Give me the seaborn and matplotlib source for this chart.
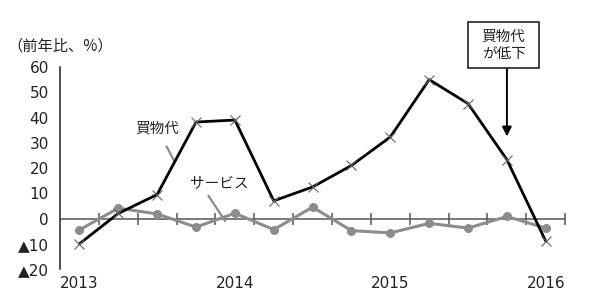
import matplotlib
matplotlib.use("Agg")
import matplotlib.pyplot as plt
from matplotlib.patches import Rectangle
import seaborn as sns
import pandas as pd
import numpy as np

sns.set_theme(style="white")
plt.rcParams['font.family'] = ['Noto Sans CJK JP', 'DejaVu Sans']

quarters = list(range(13))
goods = [-10, 2, 9.5, 38.2, 39, 7, 12.5, 21, 32.3, 55, 45.5, 23.3, -9]
services = [-4.5, 4.1, 1.8, -3.4, 2.1, -4.4, 4.5, -4.8, -5.7, -1.9, -3.8, 0.8, -3.8]
year_pos = [0, 4, 8, 12]
year_labels = ["2013", "2014", "2015", "2016"]
y_ticks = [-20, -10, 0, 10, 20, 30, 40, 50, 60]
y_labels = ["▲20", "▲10", "0", "10", "20", "30", "40", "50", "60"]

df = pd.DataFrame({"q": quarters, "goods": goods, "services": services})

fig = plt.figure(figsize=(6, 2.99), dpi=100)
ax = fig.add_axes([0.1, 0.1003, 0.842, 0.6756])

num_font = ['DejaVu Sans']

# zero line with quarter separators
ax.axhline(0, color="#555555", lw=1.1, zorder=1)
sep = np.arange(-0.5, 13, 1.0)
ax.plot(sep[1:], np.zeros(len(sep) - 1), linestyle="none", marker="|",
        markersize=8, markeredgewidth=1.1, color="#555555", zorder=1)

sns.lineplot(data=df, x="q", y="services", ax=ax, color="#8c8c8c", lw=2.2,
             marker="o", markersize=6.5, markeredgewidth=0, zorder=3)
sns.lineplot(data=df, x="q", y="goods", ax=ax, color="black", lw=2,
             marker="x", markersize=7.5, markeredgewidth=0.8,
             markeredgecolor="#666666", zorder=4)

ax.set_xlim(-0.5, 12.5)
ax.set_ylim(-20, 60)
ax.set_xlabel("")
ax.set_ylabel("")
for s in ["top", "right", "bottom"]:
    ax.spines[s].set_visible(False)
ax.spines["left"].set_color("#222222")
ax.spines["left"].set_linewidth(1.1)
ax.set_yticks(y_ticks)
ax.set_yticklabels(y_labels, family=num_font)
ax.tick_params(axis="y", direction="in", length=6, width=1.1, color="#222222",
               labelsize=11, pad=8, labelcolor="#222222")
ax.set_xticks(year_pos)
ax.set_xticklabels(year_labels, family=num_font)
ax.tick_params(axis="x", length=0, labelsize=11, pad=5, labelcolor="#222222")

fig.text(0.012, 0.845, "（前年比、%）", fontsize=11, color="#222222", va="center")

# series labels with leader lines
ax.annotate("買物代", xy=(2.45, 22.5), xytext=(2.0, 35.5), fontsize=10.5,
            ha="center", va="center", color="#222222",
            arrowprops=dict(arrowstyle="-", color="#8c8c8c", lw=1.6,
                            shrinkA=6, shrinkB=0))
ax.annotate("サービス", xy=(3.75, -1), xytext=(3.6, 14), fontsize=10.5,
            ha="center", va="center", color="#222222",
            arrowprops=dict(arrowstyle="-", color="#8c8c8c", lw=1.6,
                            relpos=(0.25, 0.0), shrinkA=2, shrinkB=0))

# callout box with arrow
ax.annotate("", xy=(11.0, 32.5), xytext=(11.0, 59.5),
            arrowprops=dict(arrowstyle="-|>", color="black", lw=1.4,
                            mutation_scale=14, shrinkA=0, shrinkB=0),
            annotation_clip=False)
ax.add_patch(Rectangle((10.0, 59.5), 1.83, 18.3, fc="white", ec="#222222",
                       lw=1.2, clip_on=False, zorder=5))
ax.text(10.915, 68.6, "買物代\nが低下", fontsize=10.5, ha="center", va="center",
        color="#222222", linespacing=1.35, clip_on=False, zorder=6)

fig.savefig("out.png", dpi=100)
